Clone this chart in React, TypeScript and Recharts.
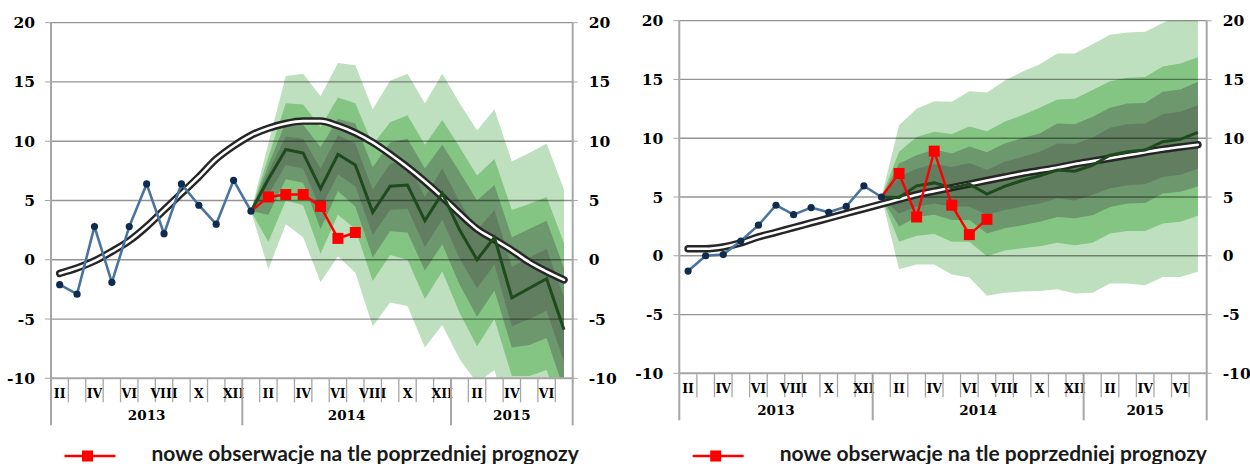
import React from "react";
import { ComposedChart, Area, Line, XAxis, YAxis, ReferenceLine } from "recharts";

// 30 monthly categories: II.2013 ... VII.2015 (only even months are labelled)
const monthLabels = [
  "II", "", "IV", "", "VI", "", "VIII", "", "X", "", "XII",
  "", "II", "", "IV", "", "VI", "", "VIII", "", "X", "", "XII",
  "", "II", "", "IV", "", "VI", "",
];
const years = ["2013", "2014", "2015"];
const yearFirst = [0, 11, 23];
const yearMid = [5, 16.5, 26];
const yTicks = [-10, -5, 0, 5, 10, 15, 20];
const gridValues = [-5, 0, 5, 10, 15, 20];
const fcStart = 11; // I.2014, first month of the fan

// ---- left panel ----
const obsL = [-2.1, -2.9, 2.8, -1.9, 2.8, 6.4, 2.2, 6.4, 4.6, 3.0, 6.7, 4.1];
const freshL = [4.1, 5.3, 5.5, 5.5, 4.5, 1.8, 2.3];
const trendL = [
  -1.15, -0.7, -0.1, 0.7, 1.6, 2.8, 4.2, 5.6, 7.0, 8.5, 9.6, 10.5, 11.1, 11.5, 11.7,
  11.7, 11.3, 10.7, 9.9, 8.9, 7.8, 6.6, 5.3, 3.9, 2.6, 1.7, 0.8, -0.2, -1.0, -1.7,
];
const centerL = [4.1, 6.8, 9.3, 9.0, 6.0, 8.9, 8.0, 4.0, 6.2, 6.3, 3.3, 5.6, 2.5, 0.0, 1.9, -3.2, -2.4, -1.6, -5.9];
const hi4L = [4.1, 9.8, 15.5, 15.7, 13.8, 16.6, 16.4, 12.7, 15.1, 15.7, 13.2, 15.7, 13.2, 10.9, 12.7, 8.3, 9.0, 9.8, 5.9];
const hi3L = [4.1, 8.7, 13.2, 13.1, 11.2, 13.7, 13.2, 9.7, 11.6, 12.2, 9.7, 11.8, 9.5, 7.1, 8.5, 4.2, 4.7, 5.3, 1.4];
const hi2L = [4.1, 8.0, 11.6, 11.4, 9.5, 11.9, 11.5, 7.8, 9.9, 10.2, 7.7, 9.7, 7.4, 5.0, 6.3, 1.9, 2.6, 3.3, -0.7];
const hi1L = [4.1, 7.4, 10.4, 10.2, 7.7, 10.5, 9.8, 5.9, 8.1, 8.3, 5.3, 7.7, 4.9, 2.5, 4.2, -0.6, 0.2, 0.9, -3.2];
const lo1L = [4.1, 5.5, 8.0, 7.7, 4.3, 7.2, 6.2, 2.1, 4.2, 4.3, 1.1, 3.4, 0.1, -2.4, -0.4, -5.6, -5.0, -4.3, -8.6];
const lo2L = [4.1, 3.8, 6.8, 6.5, 2.6, 5.8, 4.5, 0.2, 2.4, 2.3, -0.9, 1.3, -2.1, -4.8, -2.6, -7.4, -7.2, -6.6, -11.0];
const lo3L = [4.1, 1.5, 5.0, 4.6, 0.5, 3.8, 2.6, -1.8, 0.4, 0.0, -3.3, -1.0, -4.5, -7.3, -5.0, -9.8, -9.8, -9.3, -13.5];
const lo4L = [4.1, -0.8, 3.0, 1.9, -1.9, 0.3, -1.1, -5.6, -3.6, -3.9, -7.4, -5.5, -8.4, -10.4, -9.3, -14.5, -14.0, -13.5, -18.0];

// ---- right panel ----
const obsR = [-1.3, 0.0, 0.1, 1.25, 2.6, 4.3, 3.5, 4.1, 3.7, 4.2, 5.95, 5.0];
const freshR = [5.0, 7.0, 3.3, 8.9, 4.3, 1.8, 3.1];
const trendR = [
  0.6, 0.6, 0.75, 1.1, 1.6, 2.0, 2.4, 2.8, 3.2, 3.6, 4.0, 4.4, 4.8, 5.2, 5.5,
  5.8, 6.1, 6.4, 6.7, 7.0, 7.25, 7.5, 7.8, 8.05, 8.3, 8.55, 8.8, 9.05, 9.25, 9.45,
];
const centerR = [5.0, 4.95, 5.95, 6.2, 5.8, 6.1, 5.25, 5.9, 6.4, 6.8, 7.3, 7.2, 7.7, 8.55, 8.85, 9.0, 9.7, 9.9, 10.5];
const hi4R = [5.0, 11.1, 12.5, 13.15, 13.1, 14.0, 13.9, 14.9, 15.65, 16.3, 17.2, 17.2, 18.0, 18.8, 19.0, 19.05, 19.8, 20.5, 21.0];
const hi3R = [5.0, 8.85, 10.1, 10.55, 10.35, 11.0, 10.6, 11.4, 11.95, 12.6, 13.3, 13.35, 14.1, 14.85, 15.15, 15.2, 16.1, 16.35, 16.9];
const hi2R = [5.0, 7.85, 8.55, 9.05, 8.7, 9.3, 8.8, 9.55, 10.0, 10.4, 11.25, 11.2, 11.8, 12.6, 12.95, 13.0, 13.95, 14.15, 14.8];
const hi1R = [5.0, 6.7, 7.4, 7.8, 7.55, 7.9, 7.3, 8.0, 8.4, 8.85, 9.55, 9.5, 10.05, 10.9, 11.2, 11.25, 12.05, 12.25, 12.8];
const lo1R = [5.0, 3.6, 4.2, 4.45, 4.2, 4.2, 3.5, 3.9, 4.2, 4.45, 4.9, 4.7, 5.2, 5.75, 6.0, 6.1, 6.7, 6.9, 7.4];
const lo2R = [5.0, 2.5, 3.3, 3.5, 3.05, 3.05, 1.9, 2.35, 2.6, 2.9, 3.3, 3.2, 3.45, 4.15, 4.45, 4.5, 5.3, 5.45, 5.9];
const lo3R = [5.0, 1.2, 1.7, 1.85, 1.2, 1.2, -0.05, 0.45, 0.65, 0.8, 1.1, 0.9, 1.1, 1.9, 2.1, 2.1, 2.75, 2.9, 3.4];
const lo4R = [5.0, -1.15, -0.75, -0.75, -1.6, -1.85, -3.4, -3.15, -3.05, -3.0, -2.85, -3.2, -3.15, -2.35, -2.35, -2.5, -1.8, -1.8, -1.35];

const AXIS = "#a6a6a6";
const BAND_COLORS = ["#617e61", "#6d976d", "#84c584", "#bee0be"]; // inner -> outer
const SERIF = "'DejaVu Serif', serif";

function buildRows(
  obs: number[], fresh: number[], center: number[], trend: number[],
  hi: number[][], lo: number[][],
) {
  return trend.map((t, i) => {
    const j = i - fcStart;
    const fc = j >= 0 && j < center.length;
    const row: any = {
      key: i,
      trend: t,
      obs: i < obs.length ? obs[i] : null,
      fresh: j >= 0 && j < fresh.length ? fresh[j] : null,
      center: fc ? center[j] : null,
    };
    for (let k = 0; k < 4; k++) row["b" + (k + 1)] = fc ? [lo[k][j], hi[k][j]] : null;
    return row;
  });
}

const rowsL = buildRows(obsL, freshL, centerL, trendL, [hi1L, hi2L, hi3L, hi4L], [lo1L, lo2L, lo3L, lo4L]);
const rowsR = buildRows(obsR, freshR, centerR, trendR, [hi1R, hi2R, hi3R, hi4R], [lo1R, lo2R, lo3R, lo4R]);

function makeTick(plotW: number) {
  const fallback = plotW / monthLabels.length / 2;
  return (props: any) => {
    const { x, y, payload } = props;
    const i = Number(payload.value);
    const half = payload.offset || fallback;
    const first = yearFirst.includes(i);
    const yi = yearMid.findIndex((m) => Math.floor(m) === i);
    return (
      <g>
        <line x1={x - half} x2={x - half} y1={y} y2={y + (first ? 47 : 24)} stroke={AXIS} strokeWidth={first ? 2 : 1.3} />
        {i === monthLabels.length - 1 && (
          <line x1={x + half} x2={x + half} y1={y} y2={y + 47} stroke={AXIS} strokeWidth={2} />
        )}
        {monthLabels[i] && (
          <text x={x} y={y + 20} textAnchor="middle" fontFamily={SERIF} fontWeight={700} fontSize={12.5} fill="#000">
            {monthLabels[i]}
          </text>
        )}
        {yi >= 0 && (
          <text x={x + (yearMid[yi] - i) * 2 * half} y={y + 42} textAnchor="middle" fontFamily={SERIF} fontWeight={700} fontSize={13.5} fill="#000">
            {years[yi]}
          </text>
        )}
      </g>
    );
  };
}

const redSquare = (props: any) => {
  const { cx, cy, index, payload } = props;
  if (cx == null || cy == null || payload.obs != null) return <g key={"rs" + index} />;
  return <rect key={"rs" + index} x={cx - 5.5} y={cy - 5.5} width={11} height={11} fill="#ff0000" />;
};

type PanelProps = {
  rows: any[];
  left: number;
  top: number;
  bottom: number;
  leftW: number;
  rightW: number;
  legendX: number;
};

function Panel({ rows, left, top, bottom, leftW, rightW, legendX }: PanelProps) {
  const W = 625;
  const H = 464;
  const plotW = W - leftW - rightW;
  const yTick = { fill: "#000", fontFamily: SERIF, fontWeight: 700, fontSize: 15.5 };
  return (
    <div style={{ position: "absolute", left, top: 0, width: W, height: H }}>
      <ComposedChart width={W} height={H} data={rows} margin={{ top, right: 0, bottom: 0, left: 0 }}>
        <XAxis
          dataKey="key"
          type="category"
          scale="band"
          interval={0}
          height={H - bottom}
          tickSize={0}
          tickMargin={0}
          tickLine={false}
          axisLine={{ stroke: AXIS, strokeWidth: 2 }}
          tick={makeTick(plotW)}
        />
        <YAxis
          yAxisId="l"
          domain={[-10, 20]}
          ticks={yTicks}
          interval={0}
          allowDataOverflow
          width={leftW}
          tickSize={6}
          tickMargin={10}
          tick={yTick}
          axisLine={{ stroke: AXIS, strokeWidth: 2 }}
          tickLine={{ stroke: AXIS }}
        />
        <YAxis
          yAxisId="r"
          orientation="right"
          domain={[-10, 20]}
          ticks={yTicks}
          interval={0}
          allowDataOverflow
          width={rightW}
          tickSize={5}
          tickMargin={11}
          tick={{ ...yTick, textAnchor: "start" }}
          axisLine={{ stroke: AXIS, strokeWidth: 2 }}
          tickLine={{ stroke: AXIS }}
        />
        {[4, 3, 2, 1].map((k) => (
          <Area
            key={"b" + k}
            yAxisId="l"
            dataKey={"b" + k}
            type="linear"
            stroke="none"
            fill={BAND_COLORS[k - 1]}
            fillOpacity={1}
            isAnimationActive={false}
            activeDot={false}
          />
        ))}
        {gridValues.map((v) => (
          <ReferenceLine key={"g" + v} yAxisId="l" y={v} stroke="rgba(0,0,0,0.42)" strokeWidth={1.3} />
        ))}
        <Line yAxisId="l" dataKey="trend" type="monotone" stroke="#262626" strokeWidth={7.5} strokeLinecap="round" dot={false} activeDot={false} isAnimationActive={false} />
        <Line yAxisId="l" dataKey="trend" type="monotone" stroke="#ffffff" strokeWidth={2.6} strokeLinecap="round" dot={false} activeDot={false} isAnimationActive={false} />
        <Line yAxisId="l" dataKey="center" type="linear" stroke="#1d4b1d" strokeWidth={3} dot={false} activeDot={false} isAnimationActive={false} />
        <Line yAxisId="l" dataKey="obs" type="linear" stroke="#4a74a0" strokeWidth={2.6} dot={{ r: 3.6, fill: "#0f2b4d", stroke: "none" }} activeDot={false} isAnimationActive={false} />
        <Line yAxisId="l" dataKey="fresh" type="linear" stroke="#ff0000" strokeWidth={2.4} dot={redSquare} activeDot={false} isAnimationActive={false} />
      </ComposedChart>
      <svg width={W} height={H} style={{ position: "absolute", left: 0, top: 0, pointerEvents: "none" }}>
        <line x1={legendX} x2={legendX + 51} y1={456} y2={456} stroke="#ff0000" strokeWidth={2.5} />
        <rect x={legendX + 17.5} y={450.5} width={11} height={11} fill="#ff0000" />
        <text x={legendX + 87} y={461} fontFamily="Lato, 'Open Sans', sans-serif" fontWeight={700} fontSize={21} fill="#1a1a1a">
          nowe obserwacje na tle poprzedniej prognozy
        </text>
      </svg>
    </div>
  );
}

export default function App() {
  return (
    <div style={{ position: "absolute", left: 0, top: 0, width: 1250, height: 464, background: "#fff", overflow: "hidden" }}>
      <Panel rows={rowsL} left={0} top={22.7} bottom={378.3} leftW={51} rightW={52.3} legendX={64.5} />
      <Panel rows={rowsR} left={625} top={20.7} bottom={373.3} leftW={54.3} rightW={43.3} legendX={67.7} />
    </div>
  );
}
